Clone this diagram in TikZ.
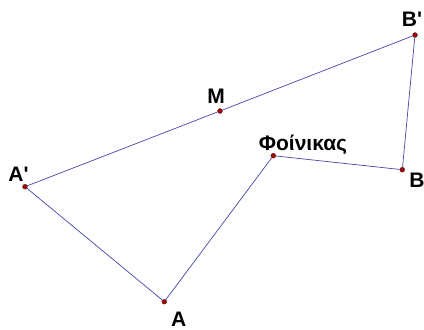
\documentclass[tikz,border=0pt]{standalone}
\usepackage{fontspec}
\setmainfont{Liberation Sans}
\usetikzlibrary{positioning}
\definecolor{segblue}{RGB}{70,70,170}
\definecolor{ptred}{RGB}{170,0,0}
\tikzset{
  pt/.style={circle, inner sep=0pt, minimum size=5pt, fill=ptred,
             draw=black!80, line width=0.3pt},
  lbl/.style={inner sep=0pt, anchor=base,
              font=\fontsize{21}{22}\selectfont\bfseries},
  seg/.style={draw=segblue, line width=0.7pt}
}

\begin{document}
\begin{tikzpicture}[x=1pt, y=-1pt]
  \useasboundingbox (0,0) rectangle (424,330);

  % Points
  \node[pt] (Ap) at (25,186.7)  {};
  \node[pt] (A)  at (164.3,301.7) {};
  \node[pt] (Fo) at (273.3,155.7) {};
  \node[pt] (B)  at (402.3,169.7) {};
  \node[pt] (Bp) at (415,35) {};
  \node[pt] (M)  at (220,111) {};

  % Segments
  \draw[seg] (Ap) -- (M);
  \draw[seg] (M) -- (Bp);
  \draw[seg] (Bp) -- (B);
  \draw[seg] (B) -- (Fo);
  \draw[seg] (Fo) -- (A);
  \draw[seg] (A) -- (Ap);

  % Labels
  \node[lbl] (lAp) at ([shift={(-6.5,-5)}]Ap.center)  {A\textquotesingle};
  \node[lbl] (lA)  at ([shift={(14.4,25)}]A.center)   {A};
  \node[lbl] (lBp) at ([shift={(-3,-8.3)}]Bp.center)  {B\textquotesingle};
  \node[lbl] (lB)  at ([shift={(14.7,17.6)}]B.center) {B};
  \node[lbl] (lFo) at ([shift={(29.7,-5.7)}]Fo.center) {Φοίνικας};
  \node[lbl] (lM)  at ([shift={(-4,-7.7)}]M.center)   {M};
\end{tikzpicture}
\end{document}
